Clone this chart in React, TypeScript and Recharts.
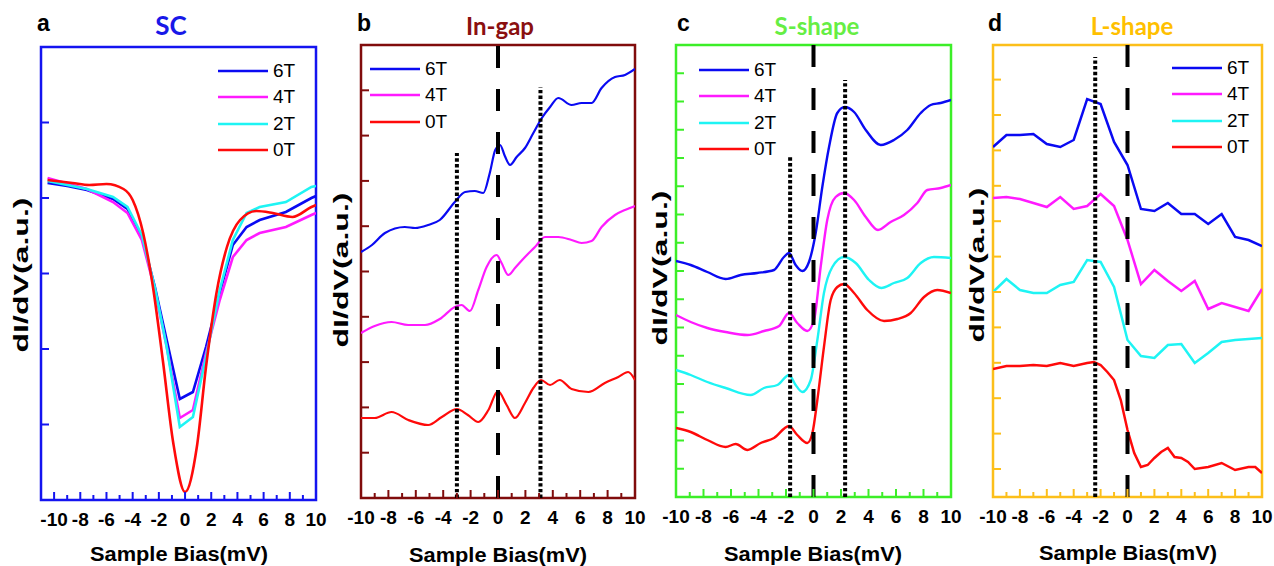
import React from "react";
import {
  LineChart,
  Line,
  XAxis,
  YAxis,
  ReferenceLine,
  ReferenceArea,
  Legend,
} from "recharts";

const W = 1274;
const H = 566;
const ARIAL = '"Liberation Sans", Arial, sans-serif';
const TITLE_FONT = 'Lato, "Open Sans", sans-serif';

const BLUE = "#0a0af2";
const MAGENTA = "#ff1aff";
const CYAN = "#1ef4f4";
const RED = "#ff0a0a";

const BIAS_TICKS = [-10, -9, -8, -7, -6, -5, -4, -3, -2, -1, 0, 1, 2, 3, 4, 5, 6, 7, 8, 9, 10];

// ---- a: SC ----
const sc6T = [[-10.5, 317], [-9, 314], [-7.5, 310], [-5.5, 301], [-4.4, 291], [-3.3, 263], [-2.3, 213], [-1.4, 160], [-0.4, 101], [0.6, 108], [1.6, 153], [2.65, 207], [3.65, 255], [4.7, 273], [5.7, 280], [7.7, 288], [9.65, 302], [10, 304]];
const sc4T = [[-10.5, 322], [-7.5, 311], [-5.5, 298], [-4.4, 287], [-3.3, 260], [-2.3, 210], [-1.4, 153], [-0.4, 82], [0.6, 90], [1.6, 147], [2.65, 200], [3.65, 243], [4.7, 260], [5.7, 267], [7.7, 273], [9.65, 285], [10, 287]];
const sc2T = [[-10.5, 319], [-7.5, 311], [-5.5, 303], [-4.4, 293], [-3.3, 265], [-2.3, 212], [-1.4, 153], [-0.4, 73], [0.6, 83], [1.6, 143], [2.65, 210], [3.65, 260], [4.7, 287], [5.7, 293], [7.7, 298], [9.65, 313], [10, 314]];
const sc0T = [[-10.5, 320], [-8.6, 317], [-7.3, 315], [-6, 316], [-4.7, 311], [-4, 300], [-3.2, 267], [-2.45, 213], [-1.7, 140], [-0.9, 57], [0, 8], [0.9, 53], [1.6, 133], [2.4, 207], [3.2, 253], [4.2, 280], [5.45, 289], [6.7, 287], [8.2, 283], [9.65, 293], [10, 295]];
const scTicks = [75.5, 151, 226.5, 302, 377.5];

// ---- b: In-gap ----
const gap6T = [[-10, 246], [-9.2, 253], [-8.25, 265], [-6.8, 271], [-6.05, 270], [-5.1, 273], [-4.25, 278], [-3.15, 296], [-2.4, 306], [-1.7, 307], [-1.07, 305], [-0.6, 325], [-0.2, 348], [0.15, 353], [0.5, 342], [0.88, 333], [1.36, 341], [1.97, 350], [2.58, 365], [3.2, 380], [3.8, 391], [4.4, 400], [5.37, 393], [6.1, 395], [6.83, 395], [7.56, 410], [8.54, 421], [9.27, 423], [10, 429]];
const gap4T = [[-10, 165], [-9, 172], [-7.77, 176], [-6.55, 173], [-5.33, 173], [-4.25, 179], [-3.15, 191], [-2.66, 193], [-2.05, 187], [-1.44, 208], [-0.83, 231], [-0.1, 243], [0.26, 235], [0.75, 223], [1.24, 230], [1.97, 241], [2.7, 251], [3.43, 261], [4.4, 261], [5.37, 258], [6.1, 255], [6.83, 257], [7.56, 271], [8.54, 283], [9.27, 288], [10, 292]];
const gap0T = [[-10, 80], [-9, 80], [-7.77, 86], [-6.55, 78], [-5.1, 73], [-4.1, 81], [-3, 89], [-2.2, 83], [-1.44, 76], [-0.7, 88], [0, 107], [0.63, 93], [1.24, 80], [1.97, 95], [2.58, 110], [3.14, 118], [3.8, 113], [4.5, 118], [5.37, 109], [6.6, 106], [7.8, 115], [8.78, 121], [9.5, 126], [10, 118]];
const gapTicks = [45.3, 90.6, 135.9, 181.2, 226.5, 271.8, 317.1, 362.4, 407.7];

// ---- c: S-shape ----
const s6T = [[-10, 236], [-8.93, 232], [-7.72, 225], [-6.39, 218], [-5.3, 222], [-4.09, 224], [-2.87, 227], [-2.15, 240], [-1.78, 244], [-1.3, 232], [-0.81, 226], [-0.33, 235], [0.16, 264], [0.64, 310], [1.13, 350], [1.73, 384], [2.27, 390], [2.95, 385], [3.8, 367], [4.89, 352], [5.85, 357], [6.82, 367], [7.8, 384], [8.52, 392], [9.25, 394], [10, 397]];
const s4T = [[-10, 182], [-8.93, 175], [-7.72, 169], [-6.39, 165], [-4.8, 162], [-3.6, 166], [-2.5, 171], [-1.78, 184], [-1.18, 174], [-0.45, 166], [0.04, 177], [0.52, 230], [1.0, 277], [1.61, 300], [2.22, 304], [2.95, 297], [3.8, 280], [4.69, 267], [5.61, 275], [6.58, 282], [7.55, 294], [8.28, 307], [9.25, 309], [10, 312]];
const s2T = [[-10, 127], [-8.93, 122], [-7.72, 115], [-6.39, 109], [-4.57, 102], [-3.6, 109], [-2.63, 112], [-1.78, 122], [-1.3, 112], [-0.81, 105], [-0.2, 117], [0.28, 157], [0.76, 204], [1.37, 230], [2.22, 240], [3.07, 234], [4.04, 217], [4.93, 209], [5.85, 214], [6.82, 219], [7.8, 234], [8.76, 240], [10, 239]];
const s0T = [[-10, 69], [-8.93, 65], [-7.72, 57], [-6.39, 50], [-5.66, 53], [-4.8, 47], [-3.84, 54], [-2.87, 59], [-1.78, 71], [-1.18, 62], [-0.45, 54], [-0.08, 64], [0.28, 97], [0.76, 150], [1.25, 197], [1.73, 210], [2.22, 213], [2.95, 204], [3.91, 187], [5.13, 176], [6.1, 178], [7.07, 184], [8.04, 200], [9.0, 207], [10, 204]];
const sTicks = [28.25, 56.5, 84.75, 113, 141.25, 169.5, 197.75, 226, 254.25, 282.5, 310.75, 339, 367.25, 395.5, 423.75];

// ---- d: L-shape ----
const lBias = [-10, -9, -8, -7, -6, -5, -4, -3, -2, -1, 0, 1, 2, 3, 4, 5, 6, 7, 8, 9, 10];
const l6T = [350, 362, 362, 363, 353, 350, 357, 398, 393, 355, 332, 288, 286, 294, 283, 283, 273, 283, 260, 257, 251];
const l4T = [299, 300, 298, 294, 290, 300, 288, 291, 303, 291, 257, 213, 227, 216, 206, 216, 188, 194, 190, 186, 208];
const l2T = [205, 218, 207, 204, 204, 212, 215, 237, 235, 210, 157, 141, 139, 152, 153, 134, 144, 155, 157, 158, 159];
const l0T = [[-10, 128], [-9, 131], [-8, 131], [-7, 132], [-6, 131], [-5, 134], [-4, 131], [-3, 134], [-2.5, 135], [-2, 132], [-1.5, 125], [-1, 117], [-0.5, 97], [0, 67], [0.5, 44], [1, 30], [1.5, 32], [2, 39], [2.5, 45], [3, 49], [3.5, 40], [4, 39], [4.5, 35], [5, 28], [6, 30], [7, 34], [8, 27], [9, 30], [9.5, 30], [10, 24]];
const lTicks = [28, 63.4, 98.8, 134.2, 169.6, 205, 240.4, 275.8, 311.2, 346.6, 382, 417.4];

const pts = (pairs: number[][]) => pairs.map(([x, y]) => ({ x, y }));
const zip = (xs: number[], ys: number[]) => xs.map((x, i) => ({ x, y: ys[i] }));

type Series = { label: string; color: string; data: { x: number; y: number }[]; curve: "linear" | "monotone" };

function BiasTick(props: any) {
  const { x, y, payload, color } = props;
  const v = payload.value;
  const major = v % 2 === 0;
  return (
    <g>
      <line x1={x} x2={x} y1={y} y2={y - (major ? 8 : 5)} stroke={color} strokeWidth={2} />
      {major && (
        <text x={x} y={y + 26} textAnchor="middle" fontFamily={ARIAL} fontWeight="bold" fontSize={19} fill="#000">
          {v}
        </text>
      )}
    </g>
  );
}

function LegendBox({ items, lineLen }: { items: Series[]; lineLen: number }) {
  return (
    <div style={{ fontFamily: ARIAL, fontSize: 19, color: "#000" }}>
      {items.map((s) => (
        <div key={s.label} style={{ display: "flex", alignItems: "center", height: 26.3 }}>
          <svg width={lineLen} height={6} style={{ display: "block" }}>
            <line x1={0} x2={lineLen} y1={3} y2={3} stroke={s.color} strokeWidth={2.6} />
          </svg>
          <span style={{ marginLeft: 5, lineHeight: "20px" }}>{s.label}</span>
        </div>
      ))}
    </div>
  );
}

type PanelProps = {
  box: { left: number; top: number; right: number; bottom: number };
  xDomain: [number, number];
  yMax: number;
  yTicks: number[];
  frame: string;
  series: Series[];
  dashed: boolean;
  dotted: { x: number; top: number }[];
  legend: { left: number; top: number };
  width: number;
};

const Y_AXIS_W = 30;

function Panel({ box, xDomain, yMax, yTicks, frame, series, dashed, dotted, legend, width }: PanelProps) {
  return (
    <div style={{ position: "absolute", left: 0, top: 0 }}>
      <LineChart
        width={W}
        height={H}
        margin={{ left: box.left - Y_AXIS_W, top: box.top, right: W - box.right, bottom: H - box.bottom - 30 }}
      >
        <XAxis
          dataKey="x"
          type="number"
          domain={xDomain}
          ticks={BIAS_TICKS}
          interval={0}
          allowDataOverflow
          height={30}
          axisLine={false}
          tickLine={false}
          tickSize={0}
          tickMargin={0}
          tick={(p: any) => <BiasTick {...p} color={frame} />}
        />
        <YAxis
          type="number"
          domain={[0, yMax]}
          ticks={yTicks}
          interval={0}
          allowDataOverflow
          width={Y_AXIS_W}
          axisLine={false}
          tickLine={false}
          tick={(p: any) => (
            <line x1={box.left} x2={box.left + 8} y1={p.y} y2={p.y} stroke={frame} strokeWidth={2} />
          )}
        />
        <ReferenceArea x1={xDomain[0]} x2={xDomain[1]} y1={0} y2={yMax} fill="none" fillOpacity={0} stroke={frame} strokeWidth={2.5} />
        {series.map((s) => (
          <Line
            key={s.label}
            data={s.data}
            dataKey="y"
            name={s.label}
            type={s.curve}
            stroke={s.color}
            strokeWidth={width}
            dot={false}
            activeDot={false}
            isAnimationActive={false}
          />
        ))}
        {dashed && <ReferenceLine x={0} stroke="#000" strokeWidth={4} strokeDasharray="22 21" />}
        {dotted.map((d) => (
          <ReferenceLine
            key={d.x}
            segment={[{ x: d.x, y: 0 }, { x: d.x, y: d.top }]}
            stroke="#000"
            strokeWidth={4}
            strokeDasharray="3.4 2.3"
          />
        ))}
        <Legend
          layout="horizontal"
          verticalAlign="middle"
          align="center"
          wrapperStyle={{ left: legend.left, top: legend.top, width: 110 }}
          content={() => <LegendBox items={series} lineLen={50} />}
        />
      </LineChart>
    </div>
  );
}

const scSeries: Series[] = [
  { label: "6T", color: BLUE, data: pts(sc6T), curve: "linear" },
  { label: "4T", color: MAGENTA, data: pts(sc4T), curve: "linear" },
  { label: "2T", color: CYAN, data: pts(sc2T), curve: "linear" },
  { label: "0T", color: RED, data: pts(sc0T), curve: "monotone" },
];
const gapSeries: Series[] = [
  { label: "6T", color: BLUE, data: pts(gap6T), curve: "monotone" },
  { label: "4T", color: MAGENTA, data: pts(gap4T), curve: "monotone" },
  { label: "0T", color: RED, data: pts(gap0T), curve: "monotone" },
];
const sSeries: Series[] = [
  { label: "6T", color: BLUE, data: pts(s6T), curve: "monotone" },
  { label: "4T", color: MAGENTA, data: pts(s4T), curve: "monotone" },
  { label: "2T", color: CYAN, data: pts(s2T), curve: "monotone" },
  { label: "0T", color: RED, data: pts(s0T), curve: "monotone" },
];
const lSeries: Series[] = [
  { label: "6T", color: BLUE, data: zip(lBias, l6T), curve: "linear" },
  { label: "4T", color: MAGENTA, data: zip(lBias, l4T), curve: "linear" },
  { label: "2T", color: CYAN, data: zip(lBias, l2T), curve: "linear" },
  { label: "0T", color: RED, data: pts(l0T), curve: "linear" },
];

const FRAME_A = "#1414f0";
const FRAME_B = "#800c0c";
const FRAME_C = "#3cee28";
const FRAME_D = "#fcbf1a";

export default function App() {
  const yLabel = (x: number, y: number) => (
    <text
      x={x}
      y={y}
      transform={`rotate(-90 ${x} ${y})`}
      textAnchor="middle"
      dominantBaseline="central"
      fontFamily={ARIAL}
      fontWeight="bold"
      fontSize={20}
      textLength={155}
      lengthAdjust="spacingAndGlyphs"
    >
      dI/dV(a.u.)
    </text>
  );
  const xLabel = (x: number, y: number) => (
    <text x={x} y={y} textAnchor="middle" fontFamily={ARIAL} fontWeight="bold" fontSize={20} textLength={178} lengthAdjust="spacingAndGlyphs">
      Sample Bias(mV)
    </text>
  );
  const letter = (x: number, t: string) => (
    <text x={x} y={31} fontFamily={ARIAL} fontWeight="bold" fontSize={23}>
      {t}
    </text>
  );
  const title = (x: number, t: string, c: string, size: number) => (
    <text x={x} y={35} textAnchor="middle" fontFamily={TITLE_FONT} fontWeight="bold" fontSize={size} fill={c}>
      {t}
    </text>
  );

  return (
    <div style={{ position: "absolute", left: 0, top: 0, width: W, height: H, background: "#fff", overflow: "hidden" }}>
      <Panel
        box={{ left: 41, top: 47, right: 316, bottom: 500 }}
        xDomain={[-11, 10]}
        yMax={453}
        yTicks={scTicks}
        frame={FRAME_A}
        series={scSeries}
        dashed={false}
        dotted={[]}
        legend={{ left: 218, top: 58 }}
        width={2.6}
      />
      <Panel
        box={{ left: 361, top: 45, right: 635, bottom: 498 }}
        xDomain={[-10, 10]}
        yMax={453}
        yTicks={gapTicks}
        frame={FRAME_B}
        series={gapSeries}
        dashed
        dotted={[{ x: -3, top: 345 }, { x: 3.1, top: 411 }]}
        legend={{ left: 370, top: 56 }}
        width={2.2}
      />
      <Panel
        box={{ left: 676, top: 45, right: 951, bottom: 497 }}
        xDomain={[-10, 10]}
        yMax={452}
        yTicks={sTicks}
        frame={FRAME_C}
        series={sSeries}
        dashed
        dotted={[{ x: -1.7, top: 342 }, { x: 2.3, top: 417 }]}
        legend={{ left: 699, top: 57 }}
        width={2.4}
      />
      <Panel
        box={{ left: 993, top: 45, right: 1262, bottom: 497 }}
        xDomain={[-10, 10]}
        yMax={452}
        yTicks={lTicks}
        frame={FRAME_D}
        series={lSeries}
        dashed
        dotted={[{ x: -2.4, top: 440 }]}
        legend={{ left: 1172, top: 55 }}
        width={2.5}
      />
      <svg width={W} height={H} style={{ position: "absolute", left: 0, top: 0, pointerEvents: "none" }}>
        {letter(37, "a")}
        {letter(357, "b")}
        {letter(677, "c")}
        {letter(988, "d")}
        {title(171, "SC", "#1818e8", 26)}
        {title(500, "In-gap", "#8a1010", 24)}
        {title(817, "S-shape", "#66ee44", 24)}
        {title(1132, "L-shape", "#ffc000", 24)}
        {yLabel(21, 275)}
        {yLabel(341, 270)}
        {yLabel(660, 268)}
        {yLabel(977, 265)}
        {xLabel(179, 561)}
        {xLabel(498, 562)}
        {xLabel(813, 561)}
        {xLabel(1128, 560)}
      </svg>
    </div>
  );
}
